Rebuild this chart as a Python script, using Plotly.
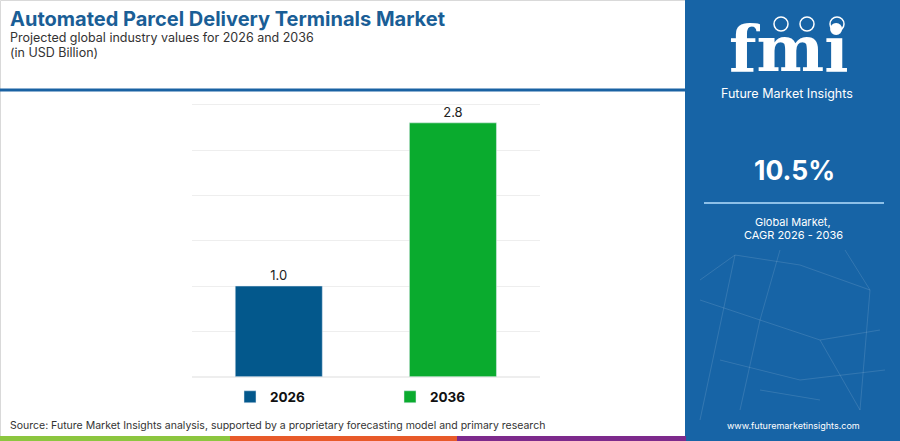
import plotly.graph_objects as go

W, H = 900, 441
years = ["2026", "2036"]
values = [1.0, 2.8]
bar_colors = ["#03588c", "#0aab2e"]
grid_ticks = [0, 0.5, 1, 1.5, 2, 2.5, 3]
title = "Automated Parcel Delivery Terminals Market"
subtitle1 = "Projected global industry values for 2026 and 2036"
subtitle2 = "(in USD Billion)"
cagr = "10.5%"
source = "Source: Future Market Insights analysis, supported by a proprietary forecasting model and primary research"

def px(x):
    return x / W

def py(y):
    return 1 - y / H

FONT = "Inter"
fig = go.Figure()
for i, (yr, v) in enumerate(zip(years, values)):
    fig.add_trace(go.Bar(
        x=[yr], y=[v], name=f"<b>{yr}</b>", marker_color=bar_colors[i],
        text=[f"{v:.1f}"], textposition="outside", cliponaxis=False,
        textfont=dict(size=13, color="#222", family=FONT),
        width=0.5,
    ))

shapes = []
shapes.append(dict(type="rect", xref="paper", yref="paper", x0=px(0.5), x1=px(686), y0=py(440.5), y1=py(0.5),
                   line=dict(color="#d9d9d9", width=1), fillcolor="rgba(0,0,0,0)", layer="below"))
shapes.append(dict(type="line", xref="paper", yref="paper", x0=0, x1=px(686), y0=py(90), y1=py(90),
                   line=dict(color="#1a62a3", width=3)))
shapes.append(dict(type="rect", xref="paper", yref="paper", x0=px(685), x1=1, y0=0, y1=1,
                   line=dict(width=0), fillcolor="#1764a6"))
shapes.append(dict(type="line", xref="paper", yref="paper", x0=px(704), x1=px(884), y0=py(203), y1=py(203),
                   line=dict(color="#8dc0e8", width=2)))
net = [(735, 255, 700, 420), (735, 255, 800, 265), (800, 265, 870, 290), (700, 300, 760, 320),
       (760, 320, 820, 340), (820, 340, 880, 330), (780, 250, 760, 320), (760, 320, 740, 410),
       (820, 340, 860, 410), (870, 290, 860, 410), (720, 360, 800, 380), (800, 380, 885, 370),
       (700, 280, 735, 255), (845, 250, 870, 290), (760, 390, 820, 400)]
for x0, y0, x1, y1 in net:
    shapes.append(dict(type="line", xref="paper", yref="paper", x0=px(x0), x1=px(x1), y0=py(y0), y1=py(y1),
                       line=dict(color="rgba(255,255,255,0.12)", width=1)))
for cx in (781, 807, 837):
    shapes.append(dict(type="circle", xref="paper", yref="paper", x0=px(cx - 7), x1=px(cx + 7),
                       y0=py(31), y1=py(17), line=dict(color="white", width=1.5), fillcolor="#1764a6"))
for x0, x1, c in [(0, 230, "#8cc63f"), (230, 457, "#e85a2a"), (457, 686, "#7d2a8c")]:
    shapes.append(dict(type="rect", xref="paper", yref="paper", x0=px(x0), x1=px(x1), y0=0, y1=py(436),
                       line=dict(width=0), fillcolor=c))

ann = []
def T(text, x, y, size, color, bold=False, xanchor="left", family=FONT):
    ann.append(dict(text=f"<b>{text}</b>" if bold else text, x=px(x), y=py(y), xref="paper", yref="paper",
                    showarrow=False, xanchor=xanchor, yanchor="middle",
                    font=dict(size=size, color=color, family=family)))

T(title, 8, 18.5, 20, "#1a5e96", bold=True)
T(subtitle1, 8, 37, 12.5, "#333333")
T(subtitle2, 8, 52.5, 12.5, "#333333")
T(source, 8, 425, 10.5, "#333333")
T("fmi", 789, 48, 64, "white", bold=True, xanchor="center", family="DejaVu Serif")
T("Future Market Insights", 787, 93, 12.5, "white", xanchor="center")
T(cagr, 794, 170, 26.5, "white", bold=True, xanchor="center")
T("Global Market,", 793, 222, 11, "white", xanchor="center")
T("CAGR 2026 - 2036", 793, 235, 11, "white", xanchor="center")
T("www.futuremarketinsights.com", 793, 425, 9, "white", xanchor="center")

fig.update_layout(
    width=W, height=H, margin=dict(l=0, r=0, t=0, b=0),
    paper_bgcolor="white", plot_bgcolor="white",
    font=dict(family=FONT),
    bargap=0.5,
    showlegend=True,
    legend=dict(orientation="h", x=px(230), y=py(397), xanchor="left", yanchor="middle",
                font=dict(size=13.5, color="#111", family=FONT), entrywidth=115, entrywidthmode="pixels",
                itemclick=False, bgcolor="rgba(0,0,0,0)"),
    xaxis=dict(domain=[px(191.7), px(540)], range=[-0.5, 1.5], showticklabels=False, showgrid=False,
               zeroline=False, showline=False, fixedrange=True),
    yaxis=dict(domain=[py(376.7), py(100.2)], range=[0, 3.05], tickvals=grid_ticks,
               showticklabels=False, gridcolor="#eeeeee", gridwidth=1, zeroline=True, zerolinecolor="#eeeeee",
               showline=False, fixedrange=True),
    shapes=shapes, annotations=ann,
)
fig.write_html("out.html", config={"displayModeBar": False},
               post_script="document.body.style.margin='0';document.body.style.overflow='hidden';")
